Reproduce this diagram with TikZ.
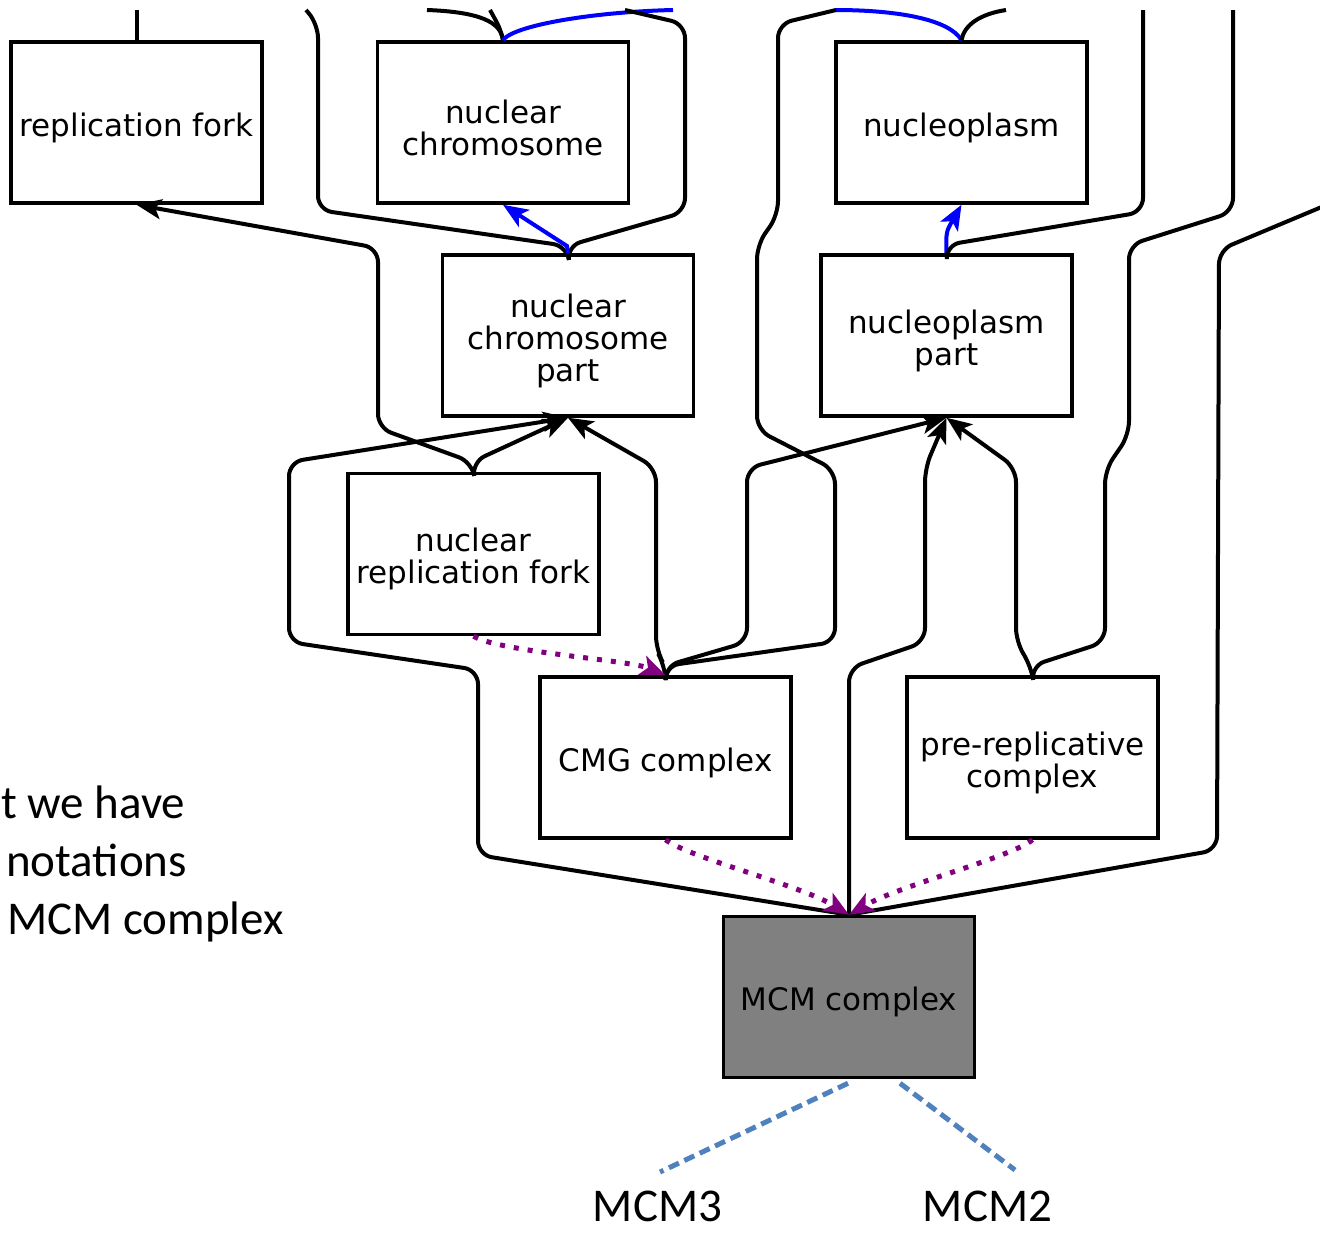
\documentclass[tikz,border=0pt]{standalone}
\usepackage{fontspec}
\newfontfamily\boxfont{DejaVu Sans}
\newfontfamily\calfont{Carlito}
\usetikzlibrary{arrows.meta}
\definecolor{gopurple}{RGB}{128,0,128}
\definecolor{goblue}{RGB}{0,0,255}
\definecolor{mcmgray}{RGB}{128,128,128}
\definecolor{dashblue}{RGB}{79,129,189}
\begin{document}
\begin{tikzpicture}[x=1pt,y=-1pt,
  btext/.style={font=\boxfont\fontsize{31}{32}\selectfont, align=center, inner sep=0pt, yshift=-5pt},
  box/.style={draw=black, line width=3.5pt, fill=white, minimum width=251pt, minimum height=161pt, inner sep=0pt, outer sep=1.75pt, label={[btext]center:#1}},
  isa/.style={draw=black, line width=4pt, rounded corners=14pt},
  tip/.style={-{Stealth[length=25pt,width=20pt,inset=6pt]}},
  partof/.style={draw=goblue, line width=4pt},
  haspart/.style={draw=gopurple, line width=5pt, dash pattern=on 5pt off 9pt},
  mcmline/.style={draw=dashblue, line width=5pt, dash pattern=on 11pt off 6pt},
  side/.style={font=\calfont\fontsize{47}{56}\selectfont, inner sep=0pt, anchor=base west},
  lbl/.style={font=\calfont\fontsize{47}{56}\selectfont, inner sep=0pt, anchor=base}
]
\useasboundingbox[fill=white] (0,0) rectangle (1320,1234);

% nodes
\node[box={replication fork}] (rf)  at (136.5,122.5) {};
\node[box={nuclear\\chromosome}] (nc)  at (503,122.5) {};
\node[box={nucleoplasm}] (np)  at (961.5,122.5) {};
\node[box={nuclear\\chromosome\\part}] (ncp) at (568,335.5) {};
\node[box={nucleoplasm\\part}] (npp) at (946.5,335.5) {};
\node[box={nuclear\\replication fork}] (nrf) at (473.5,554) {};
\node[box={CMG complex}] (cmg) at (665.5,757.5) {};
\node[box={pre-replicative\\complex}] (prc) at (1032.5,757.5) {};
\node[box={MCM complex}, fill=mcmgray] (mcm) at (849,997) {};

% free ends
\coordinate (tRF) at (136.5,10);
\coordinate (tNC1) at (427,10);
\coordinate (tNC2) at (490,10);
\coordinate (tNC3) at (673,10);
\coordinate (tL1) at (306,10);
\coordinate (tL2) at (625,10);
\coordinate (tNP1) at (835,10);
\coordinate (tNP2) at (1006,10);
\coordinate (tA) at (836,10);
\coordinate (tR1) at (1143,10);
\coordinate (tR2) at (1233,10);
\coordinate (tR3) at (1324,206);
\coordinate (m3) at (660,1172);
\coordinate (m2) at (1015,1170);

% top row up-going edges
\draw[isa] (rf.north) -- (tRF);
\draw[isa] (nc.north) .. controls (501,22) and (480,12) .. (tNC1);
\draw[isa] (nc.north) .. controls (500,28) .. (tNC2);
\draw[partof] (nc.north) .. controls (512,26) and (590,12) .. (tNC3);
\draw[partof] (np.north) .. controls (950,20) and (900,10) .. (tNP1);
\draw[isa] (np.north) .. controls (964,25) and (980,14) .. (tNP2);

% from nuclear chromosome part
\draw[isa] (ncp.north) -- (567,246) -- (318,210) -- (318,24) -- (tL1);
\draw[isa] (ncp.north) -- (567,246) -- (685,212) -- (685,24) -- (tL2);
\draw[partof,tip] (ncp.north) -- (567,246) -- (nc.south);

% from nucleoplasm part
\draw[partof,tip] (npp.north) .. controls (946,232) .. (np.south);
\draw[isa] (npp.north) -- (946,245) -- (1143,212) -- (tR1);

% from nuclear replication fork
\draw[isa,tip] (nrf.north) -- (472,462) -- (378,428) -- (378,248) -- (rf.south);
\draw[isa,tip] (nrf.north) -- (472,462) -- (ncp.south);

% from CMG complex
\draw[isa,tip] (cmg.north) -- (665,666) -- (656,650) -- (656,468) -- (ncp.south);
\draw[isa] (cmg.north) -- (665,666) -- (835,642) -- (835,470) -- (757,430) -- (757,245) -- (778,215) -- (778,24) -- (tA);
\draw[isa,tip] (cmg.north) -- (665,666) -- (747,642) -- (747,468) -- (npp.south);

% from pre-replicative complex
\draw[isa,tip] (prc.north) -- (1031,666) -- (1016,642) -- (1016,468) -- (npp.south);
\draw[isa] (prc.north) -- (1031,666) -- (1105,642) -- (1105,470) -- (1129,435) -- (1129,245) -- (1233,212) -- (tR2);

% from MCM complex
\draw[isa,tip] (mcm.north) -- (849,668) -- (925,642) -- (925,468) -- (npp.south);
\draw[isa] (mcm.north) -- (1217,850) -- (1219,250) -- (tR3);
\draw[isa,tip] (mcm.north) -- (478,855) -- (478,670) -- (289,642) -- (289,462) -- (ncp.south);

% has_part (purple dotted)
\draw[haspart,tip] (nrf.south) .. controls (500,652) and (630,660) .. (cmg.north);
\draw[haspart,tip] (cmg.south) .. controls (690,858) and (800,885) .. (mcm.north);
\draw[haspart,tip] (prc.south) .. controls (1010,858) and (900,885) .. (mcm.north);

% MCM subunits
\node[lbl] (mcm3) at (657.5,1221) {MCM3};
\node[lbl] (mcm2) at (987.5,1221) {MCM2};
\draw[mcmline] ([shift={(-1pt,-4pt)}]mcm.south) -- (m3);
\draw[mcmline] ([shift={(51pt,-4pt)}]mcm.south) -- (m2);

% side text
\node[side] (s1) at (1,818) {t we have};
\node[side] (s2) at (6,876) {notations};
\node[side] (s3) at (7,934) {MCM complex};
\end{tikzpicture}
\end{document}
